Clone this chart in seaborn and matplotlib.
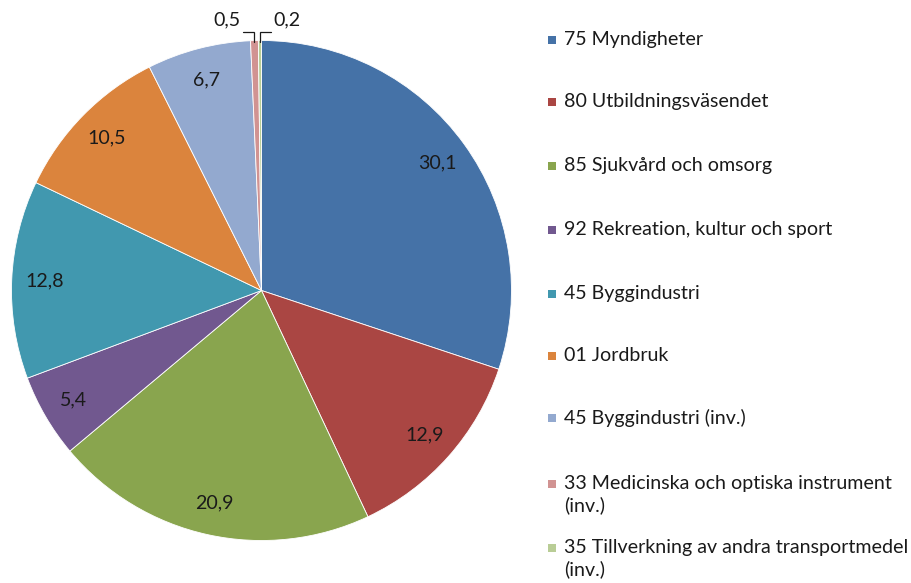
import numpy as np
import seaborn as sns
import matplotlib.pyplot as plt
from matplotlib.patches import Rectangle

sns.set_theme(style="white")
plt.rcParams['font.family'] = ['Lato', 'DejaVu Sans']

# data
categories = ['75 Myndigheter', '80 Utbildningsväsendet', '85 Sjukvård och omsorg',
              '92 Rekreation, kultur och sport', '45 Byggindustri', '01 Jordbruk',
              '45 Byggindustri (inv.)', '33 Medicinska och optiska instrument\n(inv.)',
              '35 Tillverkning av andra transportmedel\n(inv.)']
values = [30.1, 12.9, 20.9, 5.4, 12.8, 10.5, 6.7, 0.5, 0.2]
colors = ['#4572A7', '#AA4643', '#89A54E', '#71588F', '#4198AF', '#DB843D',
          '#93A9CF', '#D19392', '#B9CD96']

FS = 14.1
TXT = '#1a1a1a'

fig = plt.figure(figsize=(9.12, 5.83), dpi=100)
W, H = 912, 583
ax = fig.add_axes([11.5 / W, 42.5 / H, 500 / W, 500 / H])

wedges, _ = ax.pie(values, colors=colors, startangle=90, counterclock=False,
                   radius=1, wedgeprops=dict(edgecolor='white', linewidth=0.6))
ax.set_xlim(-1, 1)
ax.set_ylim(-1, 1)
ax.set_aspect('equal')
ax.axis('off')

fmt = lambda v: ('%.1f' % v).replace('.', ',')

for w, v in zip(wedges, values):
    ang = np.deg2rad((w.theta1 + w.theta2) / 2)
    x, y = np.cos(ang), np.sin(ang)
    if v >= 1:
        ax.text(0.87 * x, 0.87 * y, fmt(v), ha='center', va='center', fontsize=FS, color=TXT)

# small slices: labels above the pie with elbow leader lines
# (index, direction of horizontal leg)
small = [(7, -1), (8, 1)]
for i, d in small:
    w = wedges[i]
    ang = np.deg2rad((w.theta1 + w.theta2) / 2)
    x, y = np.cos(ang), np.sin(ang)
    ey = 1.036
    ex = x + d * 0.045
    ax.plot([x, x, ex], [y - 0.005, ey, ey], color=TXT, lw=0.9, clip_on=False,
            solid_joinstyle='miter')
    ax.text(ex + d * 0.01, 1.082, fmt(values[i]), ha='left' if d > 0 else 'right',
            va='center', fontsize=FS, color=TXT)

# legend drawn like Excel: square aligned with first line
row_y = [40, 102, 166, 230, 294, 356, 418, 484, 548]
for c, lab, yy in zip(colors, categories, row_y):
    fig.patches.append(Rectangle((548 / W, 1 - (yy + 4) / H), 8 / W, 8 / H,
                                 transform=fig.transFigure, facecolor=c, edgecolor='none'))
    fig.text(564 / W, 1 - (yy - 9) / H, lab, ha='left', va='top', fontsize=FS,
             color=TXT, linespacing=1.3)

fig.savefig('out.png', dpi=100, facecolor='white')
